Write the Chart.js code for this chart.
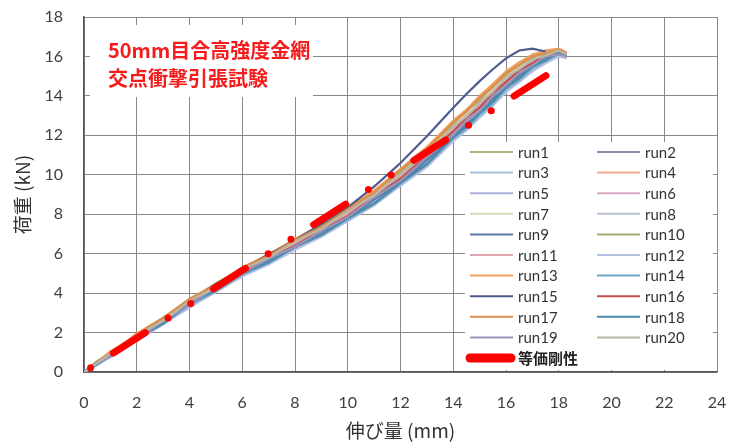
<!DOCTYPE html>
<html>
<head>
<meta charset="utf-8">
<script src="https://cdn.jsdelivr.net/npm/chart.js@4"></script>
<style>
html,body{margin:0;padding:0;background:#fff;}
#wrap{width:732px;height:443px;position:relative;}
</style>
</head>
<body>
<div id="wrap"><canvas id="c"></canvas></div>
<script>
// ---- data ----
const X = [0,0.5,1,1.5,2,3,4,5,6,7,8,9,10,11,12,13,14,14.5,15,15.5,16,16.5,17,17.5,18,18.3];
const run1  = [0,0.5,0.95,1.45,1.8,2.75,3.55,4.45,5.15,5.95,6.55,7.4,8.1,9.15,10.1,11.35,12.55,13.25,13.75,14.5,15.0,15.6,15.9,16.3,16.25,16.1];
const run2  = [0,0.4,0.9,1.2,1.75,2.5,3.5,4.2,5.05,5.65,6.45,7.05,7.95,8.75,9.85,10.85,12.25,12.75,13.45,13.95,14.75,15.15,15.7,15.95,16.25,16.0];
const run3  = [0,0.35,0.8,1.25,1.6,2.55,3.3,4.2,4.9,5.65,6.25,7.05,7.7,8.65,9.5,10.65,11.8,12.5,13.0,13.75,14.3,14.95,15.35,15.85,16.05,16.0];
const run4  = [0,0.5,0.85,1.4,1.75,2.7,3.5,4.4,5.1,5.9,6.5,7.3,8.0,9.0,9.9,11.1,12.3,13.0,13.5,14.25,14.8,15.4,15.75,16.15,16.2,16.1];
const run5  = [0,0.4,0.75,1.25,1.55,2.5,3.25,4.15,4.85,5.6,6.2,7.0,7.65,8.6,9.45,10.6,11.75,12.45,12.95,13.65,14.2,14.85,15.25,15.8,16.0,15.95];
const run6  = [0,0.45,0.95,1.25,1.8,2.55,3.55,4.25,5.15,5.75,6.55,7.15,8.05,8.85,9.95,10.95,12.3,12.8,13.5,14.05,14.8,15.2,15.75,16.0,16.25,16.05];
const run7  = [0,0.5,0.9,1.45,1.8,2.75,3.55,4.45,5.15,5.95,6.55,7.35,8.05,9.05,10.0,11.2,12.4,13.1,13.6,14.35,14.9,15.5,15.8,16.2,16.2,null];
const run8  = [0,0.45,0.9,1.25,1.75,2.5,3.5,4.2,5.1,5.7,6.5,7.1,8.0,8.8,9.9,10.9,12.25,12.75,13.45,14.0,14.75,15.15,15.7,15.95,16.2,16.0];
const run9  = [0,0.4,0.8,1.3,1.65,2.55,3.35,4.25,4.95,5.7,6.3,7.1,7.75,8.75,9.6,10.75,11.9,12.6,13.1,13.85,14.4,15.05,15.45,15.95,16.1,16.0];
const run10 = [0,0.55,0.95,1.45,1.85,2.75,3.6,4.5,5.2,6.0,6.6,7.45,8.15,9.2,10.15,11.4,12.6,13.3,13.85,14.6,15.1,15.7,15.95,16.3,16.25,16.15];
const run11 = [0,0.45,0.85,1.4,1.7,2.65,3.45,4.35,5.05,5.85,6.45,7.3,8.0,9.0,9.9,11.1,12.3,13.0,13.5,14.2,14.75,15.35,15.7,16.1,16.15,null];
const run12 = [0,0.35,0.8,1.15,1.6,2.4,3.3,4.05,4.85,5.45,6.2,6.85,7.65,8.45,9.45,10.4,11.7,12.25,12.9,13.5,14.2,14.7,15.25,15.65,16.0,15.9];
const run13 = [0,0.5,1.05,1.45,1.95,2.75,3.7,4.45,5.3,5.95,6.75,7.45,8.3,9.2,10.3,11.4,12.75,13.3,14.0,14.6,15.25,15.7,16.1,16.3,16.4,16.2];
const run14 = [0,0.4,0.85,1.2,1.7,2.45,3.4,4.1,4.95,5.55,6.35,6.95,7.75,8.5,9.55,10.5,11.85,12.35,13.05,13.6,14.35,14.8,15.4,15.75,16.15,16.0];
const run15 = [0,0.5,0.95,1.4,1.85,2.7,3.6,4.45,5.25,5.95,6.7,7.5,8.35,9.4,10.6,11.95,13.4,14.1,14.75,15.35,15.9,16.3,16.4,16.25,null,null];
const run16 = [0,0.45,0.9,1.35,1.7,2.65,3.45,4.35,5.05,5.8,6.4,7.2,7.9,8.9,9.8,11.0,12.2,12.9,13.4,14.15,14.7,15.3,15.65,16.1,16.15,16.05];
const run17 = [0,0.5,1.0,1.4,1.95,2.7,3.7,4.4,5.3,5.9,6.7,7.35,8.25,9.1,10.25,11.3,12.65,13.2,13.9,14.45,15.15,15.55,16.0,16.15,16.35,16.15];
const run18 = [0,0.4,0.85,1.2,1.7,2.45,3.45,4.15,5.0,5.55,6.35,6.95,7.8,8.55,9.6,10.55,11.9,12.45,13.15,13.7,14.45,14.9,15.5,15.8,16.2,16.05];
const run19 = [0,0.45,0.8,1.35,1.65,2.6,3.4,4.3,5.0,5.75,6.35,7.15,7.85,8.85,9.7,10.9,12.05,12.75,13.25,14.0,14.55,15.15,15.55,16.0,16.1,16.0];
const run20 = [0,0.45,0.95,1.3,1.85,2.6,3.6,4.3,5.2,5.8,6.6,7.25,8.15,8.95,10.05,11.05,12.45,12.95,13.65,14.2,14.95,15.35,15.85,16.05,16.3,16.1];
const runNames = ['run1','run2','run3','run4','run5','run6','run7','run8','run9','run10','run11','run12','run13','run14','run15','run16','run17','run18','run19','run20'];
const eqX = [0.1, 17.6];
const eqY = [0.09, 15.1];
const eqName = '等価剛性';
const xTicks = [0,2,4,6,8,10,12,14,16,18,20,22,24];
const yTicks = [0,2,4,6,8,10,12,14,16,18];
const titleLines = ['50mm目合高強度金網', '交点衝撃引張試験'];

const runColors = ['#b3b07f','#8a8cab','#a7c0dc','#f2aa92','#aeb0dc','#d9a9c4','#d8d6b6','#b7c3d1','#5b7aa6','#a5ad6c',
                   '#e1a5ad','#b5bfe2','#f1a15f','#6eaac9','#4f5a8f','#c24d4d','#d98e4c','#4a8aab','#9c92ba','#b9b8a6'];
const runs = [run1,run2,run3,run4,run5,run6,run7,run8,run9,run10,run11,run12,run13,run14,run15,run16,run17,run18,run19,run20];

const datasets = runs.map((ys, i) => ({
  label: runNames[i],
  data: X.map((x, j) => ({x: x, y: ys[j]})).filter(p => p.y !== null),
  showLine: true,
  borderColor: runColors[i],
  borderWidth: 2.2,
  pointRadius: 0,
  order: -i
}));
datasets.push({
  label: eqName,
  data: eqX.map((x, j) => ({x: x, y: eqY[j]})),
  showLine: true,
  borderColor: '#ff0000',
  borderWidth: 7,
  borderCapStyle: 'round',
  borderDash: [38, 27, 0, 27, 0, 27],
  borderDashOffset: 87.3,
  pointRadius: 0,
  order: -100
});

const overlay = {
  id: 'overlay',
  afterDraw(chart) {
    const ctx = chart.ctx;
    ctx.save();
    ctx.fillStyle = '#fff';
    ctx.fillRect(90, 25, 223, 72);
    ctx.fillStyle = '#f41c1c';
    ctx.font = 'bold 20px "Noto Sans CJK JP"';
    ctx.textBaseline = 'middle';
    ctx.textAlign = 'left';
    ctx.fillText(titleLines[0], 108, 50);
    ctx.fillText(titleLines[1], 108, 78);
    ctx.fillStyle = '#fff';
    ctx.fillRect(465, 142, 248, 228);
    const ds = chart.data.datasets;
    for (let i = 0; i < 20; i++) {
      const row = Math.floor(i / 2), col = i % 2;
      const y = 152 + row * 20.6;
      const lx = col === 0 ? 470 : 597;
      ctx.strokeStyle = ds[i].borderColor;
      ctx.lineWidth = 2;
      ctx.setLineDash([]);
      ctx.beginPath(); ctx.moveTo(lx, y); ctx.lineTo(lx + 43, y); ctx.stroke();
      ctx.fillStyle = '#333';
      ctx.font = '15px Lato';
      ctx.fillText(ds[i].label, lx + 48, y + 1);
    }
    const ry = 358;
    ctx.strokeStyle = '#ff0000';
    ctx.lineWidth = 9;
    ctx.lineCap = 'round';
    ctx.beginPath(); ctx.moveTo(470, ry); ctx.lineTo(511, ry); ctx.stroke();
    ctx.fillStyle = '#222';
    ctx.font = 'bold 15px "Noto Sans CJK JP"';
    ctx.fillText(ds[20].label, 518, ry);
    ctx.restore();
  }
};

function zeroPad(s) { s.paddingTop = 0; s.paddingBottom = 0; s.paddingLeft = 0; s.paddingRight = 0; }

new Chart(document.getElementById('c'), {
  type: 'scatter',
  data: { datasets: datasets },
  options: {
    responsive: true,
    maintainAspectRatio: false,
    animation: false,
    layout: { padding: { left: 0, right: 15, top: 17, bottom: 0 } },
    plugins: { legend: { display: false }, tooltip: { enabled: false } },
    scales: {
      x: {
        type: 'linear', min: 0, max: 24,
        afterFit: s => { s.height = 71; zeroPad(s); },
        afterBuildTicks: s => { s.ticks = xTicks.map(v => ({value: v})); },
        ticks: { padding: 21, color: '#404040', font: { family: 'Lato', size: 16 } },
        grid: { color: '#888', lineWidth: 1, drawTicks: false },
        border: { display: true, color: '#555', width: 1.5 },
        title: { display: true, text: '伸び量 (mm)', color: '#333', font: { family: '"Noto Sans CJK JP"', size: 19 }, padding: { top: 0, bottom: 1 } }
      },
      y: {
        type: 'linear', min: 0, max: 18,
        afterFit: s => { s.width = 84; zeroPad(s); },
        afterBuildTicks: s => { s.ticks = yTicks.map(v => ({value: v})); },
        ticks: { padding: 21, color: '#404040', font: { family: 'Lato', size: 16 } },
        grid: { color: '#888', lineWidth: 1, drawTicks: false },
        border: { display: true, color: '#555', width: 1.5 },
        title: { display: true, text: '荷重 (kN)', color: '#333', font: { family: '"Noto Sans CJK JP"', size: 19 }, padding: { top: 11, bottom: 0 } }
      }
    }
  },
  plugins: [overlay]
});
</script>
</body>
</html>
